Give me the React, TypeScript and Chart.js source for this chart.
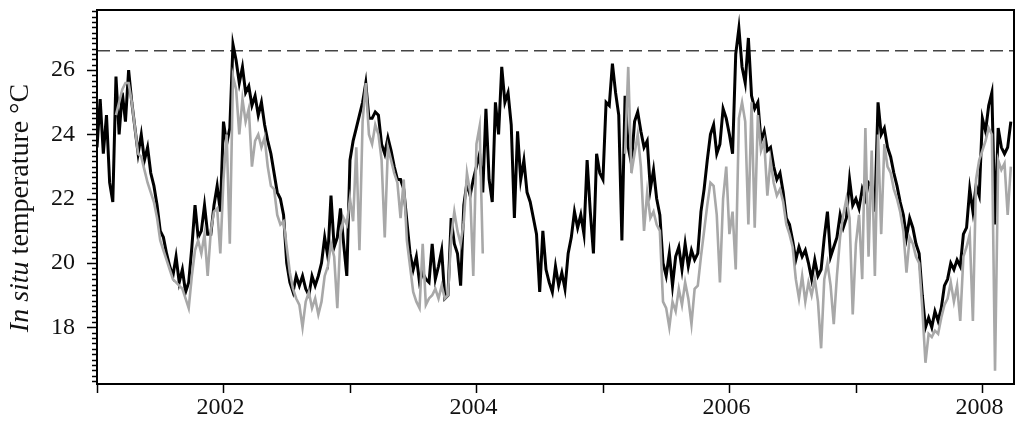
import React, { useEffect, useRef } from "react";
import { Chart, registerables } from "chart.js";

Chart.register(...registerables);

// ---- data ----
const START_YEAR = 2001;
const STEP_YEARS = 0.025; // one value every ~9 days
const X_MIN = 2001;
const X_MAX = 2008.25;
const Y_MIN = 16.24;
const Y_MAX = 27.87;
const yearTicks = [2001, 2002, 2003, 2004, 2005, 2006, 2007, 2008];
const tempTicks = [18, 20, 22, 24, 26];
const MINOR_PER_DEGREE = 6;
const threshold = 26.6;

const blackTemps: (number | null)[] = [
  23.6, 25.1, 23.4, 24.6, 22.5, 21.9, 25.8, 24.0, 25.3, 24.4,
  26.0, 25.0, 24.2, 23.4, 24.0, 23.2, 23.6, 22.8, 22.4, 21.8,
  21.0, 20.8, 20.3, 19.9, 19.6, 20.2, 19.4, 19.8, 19.1, 19.4,
  20.5, 21.8, 20.8, 21.0, 21.8, 20.9, 20.9, 21.8, 22.4, 21.6,
  24.4, 23.7, 24.2, 26.8, 26.3, 25.6, 26.1, 25.3, 25.5, 24.9,
  25.2, 24.6, 25.0, 24.3, 23.8, 23.4, 22.8, 22.2, 22.0, 21.5,
  20.0, 19.4, 19.1, 19.6, 19.3, 19.6, 19.2, 19.0, 19.6, 19.3,
  19.6, 20.0, 20.8, 20.2, 22.1, 20.5, 20.8, 21.7, 20.6, 19.6,
  23.2, 23.8, 24.2, 24.6, 25.0, 25.6, 24.5, 24.5, 24.7, 24.6,
  23.7, 23.4, 23.9, 23.5, 23.0, 22.6, 22.6, 22.3, 21.3, 20.3,
  19.8, 20.2, 19.4, 19.7, 19.5, 19.4, 20.6, 19.5, 19.9, 20.4,
  18.9, 19.0, 21.4, 20.6, 20.3, 19.3, 21.8, 22.5, 22.1, 22.6,
  23.0, 23.4, 22.2, 24.8, 22.6, 21.9, 25.0, 24.0, 26.1, 25.0,
  25.3, 24.3, 21.4, 24.1, 22.6, 23.2, 22.2, 21.9, 21.4, 20.9,
  19.1, 21.0, 19.8, 19.4, 19.1, 19.9, 19.3, 19.7, 19.2, 20.3,
  20.8, 21.6, 21.1, 21.5, 20.9, 23.2, 21.6, 20.3, 23.4, 22.8,
  22.6, 25.0, 24.9, 26.2, 25.3, 24.6, 20.7, 25.2, 23.6, 23.1,
  24.4, 24.7, 24.1, 23.6, 23.8, 22.3, 22.9, 22.0, 21.5, 20.0,
  19.6, 20.3, 19.3, 20.2, 20.5, 19.8, 20.6, 19.9, 20.4, 20.1,
  20.3, 21.6, 22.3, 23.2, 24.0, 24.3, 23.4, 23.7, 24.8, 24.5,
  24.0, 23.4, 26.5, 27.3, 26.1, 25.6, 27.0, 25.2, 24.8, 25.0,
  23.8, 24.1, 23.5, 23.6, 23.0, 22.6, 22.8, 22.2, 21.4, 21.2,
  20.7, 20.1, 20.5, 20.2, 20.4, 20.0, 19.5, 20.1, 19.6, 19.8,
  20.8, 21.6, 20.2, 20.5, 20.8, 21.5, 21.1, 21.4, 22.6, 21.8,
  22.0, 21.7, 22.3, 22.0, 22.5, 22.4, 21.6, 25.0, 24.0, 24.2,
  23.6, 23.3, 22.8, 22.4, 21.9, 21.5, 20.8, 21.4, 21.1, 20.6,
  20.3, 19.0, 18.0, 18.3, 18.0, 18.5, 18.2, 18.6, 19.3, 19.5,
  20.0, 19.8, 20.1, 19.9, 20.9, 21.1, 22.3, 21.6, 22.4, 22.1,
  24.5, 24.1, 24.9, 25.3, 21.2, 24.2, 23.6, 23.4, 23.6, 24.4,
];

const grayTemps: (number | null)[] = [
  null, null, null, null, null, null, 24.6, 25.0, 25.4, 25.6,
  25.6, 25.0, 24.2, 23.4, 23.3, 22.9, 22.5, 22.2, 21.9, 21.4,
  20.7, 20.4, 20.1, 19.8, 19.5, 19.4, 19.3, 19.2, 18.9, 18.6,
  19.6, 20.4, 20.7, 20.3, 20.9, 19.6, 21.0, 21.6, 21.7, 20.3,
  22.6, 24.0, 20.6, 25.8, 25.4, 24.0, 25.1, 24.4, 24.8, 23.0,
  23.8, 24.0, 23.6, 23.9, 23.0, 22.4, 22.3, 21.5, 21.2, 21.3,
  20.5, 19.7, 19.2, 18.9, 18.7, 18.0, 18.8, 19.1, 18.6, 18.9,
  18.4, 18.8, 19.6, 19.9, 20.6, 20.2, 18.6, 20.9, 21.4, 21.2,
  22.0, 21.3, 23.6, 20.4, 24.4, 25.6, 24.0, 23.7, 24.3, 24.0,
  23.2, 20.8, 23.6, 23.2, 22.8, 22.5, 21.4, 22.6, 20.7, 19.9,
  19.1, 18.8, 18.6, 20.6, 18.7, 18.9, 19.0, 19.2, 18.9, 19.3,
  18.9, 19.0, 20.8, 21.6, 21.0, 20.6, 21.3, 22.8, 22.2, 19.6,
  23.7, 24.25, 20.3, null, null, null, null, null, null, null,
  null, null, null, null, null, null, null, null, null, null,
  null, null, null, null, null, null, null, null, null, null,
  null, null, null, null, null, null, null, null, null, null,
  null, null, null, null, null, null, null, 23.4, 26.1, 22.8,
  23.4, 24.0, 23.0, 21.0, 22.2, 21.4, 21.6, 21.2, 21.0, 18.8,
  18.6, 18.0, 18.8, 18.5, 19.2, 18.7, 19.4, 18.9, 18.1, 19.2,
  19.3, 20.2, 21.0, 21.8, 22.5, 22.4, 21.5, 19.4, 22.0, 23.0,
  20.9, 21.6, 19.8, 24.5, 25.0, 24.4, 21.2, 25.0, 21.1, 24.6,
  23.5, 23.8, 22.1, 23.2, 22.5, 22.1, 22.3, 21.9, 21.2, 20.9,
  20.5, 19.5, 18.9, 19.6, 18.8, 19.4, 19.0, 19.5, 18.8, 17.35,
  19.5, 20.0, 19.3, 18.1, 19.6, 20.8, 21.5, 22.0, 21.4, 18.4,
  20.6, 21.5, 19.5, 24.2, 20.2, 23.5, 19.6, 24.0, 20.9, 23.7,
  23.0, 22.8, 22.3, 22.0, 21.6, 21.0, 19.7, 20.8, 20.6, 20.2,
  20.0, 18.6, 16.9, 17.8, 17.7, 17.9, 17.8, 18.3, 18.7, 18.9,
  19.4, 18.8, 19.3, 18.2, 20.2, 20.5, 20.9, 18.2, 22.6, 23.2,
  23.5, 23.8, 24.2, 24.0, 16.65, 23.2, 22.9, 23.1, 21.5, 23.0,
];

const toPoints = (vals: (number | null)[]) =>
  vals.map((v, i) => ({ x: START_YEAR + i * STEP_YEARS, y: v }));

const FONT = "'Liberation Serif', 'Times New Roman', serif";

const framePlugin = {
  id: "frameAndTicks",
  afterDraw(chart: any) {
    const { ctx, chartArea: a, scales } = chart;
    const xs = scales.x;
    const ys = scales.y;
    ctx.save();
    ctx.strokeStyle = "#000";
    ctx.lineWidth = 2;
    ctx.strokeRect(a.left, a.top, a.right - a.left, a.bottom - a.top);

    ctx.lineWidth = 1.5;
    const kStart = Math.ceil(Y_MIN * MINOR_PER_DEGREE - 1e-9);
    const kEnd = Math.floor(Y_MAX * MINOR_PER_DEGREE + 1e-9);
    for (let k = kStart; k <= kEnd; k++) {
      const v = k / MINOR_PER_DEGREE;
      const major = tempTicks.some((t) => Math.abs(t - v) < 1e-6);
      const py = Math.round(ys.getPixelForValue(v)) + 0.5;
      ctx.beginPath();
      ctx.moveTo(a.left, py);
      ctx.lineTo(a.left - (major ? 10 : 5), py);
      ctx.stroke();
    }
    for (const yr of yearTicks) {
      const px = Math.round(xs.getPixelForValue(yr)) + 0.5;
      ctx.beginPath();
      ctx.moveTo(px, a.bottom);
      ctx.lineTo(px, a.bottom + 9);
      ctx.stroke();
    }

    // y axis title with italic "In situ"
    const part1 = "In situ";
    const part2 = " temperature \u00B0C";
    ctx.fillStyle = "#111";
    ctx.textBaseline = "alphabetic";
    ctx.textAlign = "left";
    ctx.font = `italic 28px ${FONT}`;
    const w1 = ctx.measureText(part1).width;
    ctx.font = `28px ${FONT}`;
    const w2 = ctx.measureText(part2).width;
    const total = w1 + w2;
    ctx.translate(28, 208);
    ctx.rotate(-Math.PI / 2);
    ctx.font = `italic 28px ${FONT}`;
    ctx.fillText(part1, -total / 2, 0);
    ctx.font = `28px ${FONT}`;
    ctx.fillText(part2, -total / 2 + w1, 0);
    ctx.restore();
  },
};

export default function App() {
  const ref = useRef<HTMLCanvasElement | null>(null);

  useEffect(() => {
    if (!ref.current) return;
    const chart = new Chart(ref.current, {
      type: "line",
      data: {
        datasets: [
          {
            label: "gray",
            data: toPoints(grayTemps),
            borderColor: "#a8a8a8",
            borderWidth: 2.6,
            pointRadius: 0,
            tension: 0,
            spanGaps: false,
            fill: false,
          },
          {
            label: "black",
            data: toPoints(blackTemps),
            borderColor: "#000000",
            borderWidth: 3,
            pointRadius: 0,
            tension: 0,
            spanGaps: false,
            fill: false,
          },
          {
            label: "threshold",
            data: [
              { x: X_MIN, y: threshold },
              { x: X_MAX, y: threshold },
            ],
            borderColor: "#444444",
            borderWidth: 1.5,
            borderDash: [13, 6],
            pointRadius: 0,
            fill: false,
          },
        ],
      },
      options: {
        responsive: false,
        animation: false,
        events: [],
        layout: { padding: { left: 0, right: 10, top: 10, bottom: 0 } },
        plugins: {
          legend: { display: false },
          tooltip: { enabled: false },
        },
        scales: {
          x: {
            type: "linear",
            min: X_MIN,
            max: X_MAX,
            afterBuildTicks: (s: any) => {
              s.ticks = yearTicks.map((v) => ({ value: v }));
            },
            afterFit: (s: any) => {
              s.height = 42;
              s.paddingLeft = 0;
              s.paddingRight = 0;
              s.paddingTop = 0;
              s.paddingBottom = 0;
            },
            grid: { display: false, drawTicks: false },
            border: { display: false },
            ticks: {
              autoSkip: false,
              maxRotation: 0,
              padding: 9,
              labelOffset: -3,
              color: "#111",
              font: { family: FONT, size: 24 },
              callback: (v: any) => (Number(v) % 2 === 0 ? String(v) : ""),
            },
          },
          y: {
            type: "linear",
            min: Y_MIN,
            max: Y_MAX,
            afterBuildTicks: (s: any) => {
              s.ticks = tempTicks.map((v) => ({ value: v }));
            },
            afterFit: (s: any) => {
              s.width = 97;
              s.paddingLeft = 0;
              s.paddingRight = 0;
              s.paddingTop = 0;
              s.paddingBottom = 0;
            },
            grid: { display: false, drawTicks: false },
            border: { display: false },
            ticks: {
              autoSkip: false,
              padding: 22,
              color: "#111",
              font: { family: FONT, size: 24 },
              callback: (v: any) => String(v),
            },
          },
        },
      },
      plugins: [framePlugin],
    });
    return () => chart.destroy();
  }, []);

  return (
    <div style={{ position: "fixed", left: 0, top: 0, width: 1024, height: 426, background: "#fff" }}>
      <canvas ref={ref} width={1024} height={426} style={{ display: "block" }} />
    </div>
  );
}
